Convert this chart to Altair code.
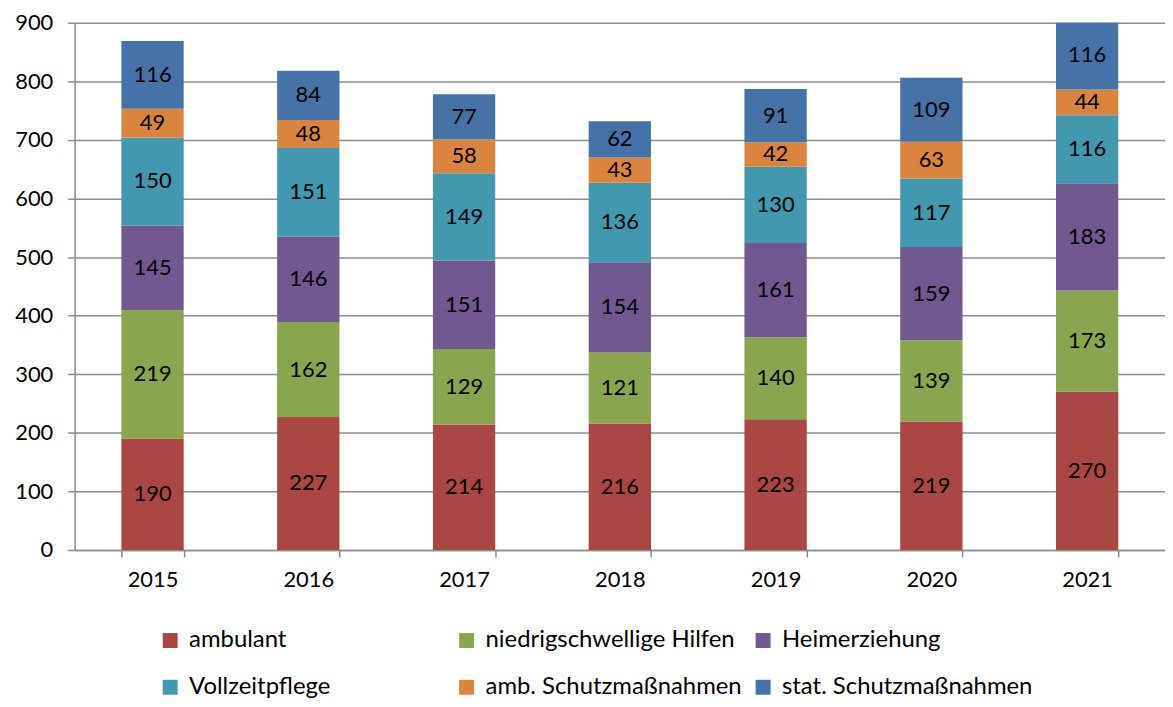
import altair as alt
import pandas as pd

years = ["2015", "2016", "2017", "2018", "2019", "2020", "2021"]
categories = ["ambulant", "niedrigschwellige Hilfen", "Heimerziehung",
              "Vollzeitpflege", "amb. Schutzmaßnahmen", "stat. Schutzmaßnahmen"]
colors = ["#AA4643", "#89A54E", "#71588F", "#4198AF", "#DB843D", "#4572A7"]

ambulant = [190, 227, 214, 216, 223, 219, 270]
niedrig = [219, 162, 129, 121, 140, 139, 173]
heim = [145, 146, 151, 154, 161, 159, 183]
vollzeit = [150, 151, 149, 136, 130, 117, 116]
amb_schutz = [49, 48, 58, 43, 42, 63, 44]
stat_schutz = [116, 84, 77, 62, 91, 109, 116]

series = [ambulant, niedrig, heim, vollzeit, amb_schutz, stat_schutz]
rows = []
for ci, (cat, vals) in enumerate(zip(categories, series)):
    for y, v in zip(years, vals):
        rows.append({"Jahr": y, "Kategorie": cat, "Wert": v, "ord": ci})
df = pd.DataFrame(rows)

FONT = "Lato"
GRID = "#8c8c8c"

base = alt.Chart(df).transform_stack(
    stack="Wert", groupby=["Jahr"], as_=["y0", "y1"],
    sort=[alt.SortField("ord", order="ascending")]
).transform_calculate(mid="(datum.y0 + datum.y1) / 2")

xenc = alt.X("Jahr:N", title=None,
             scale=alt.Scale(paddingInner=0.6, paddingOuter=0.3),
             axis=alt.Axis(labelAngle=0, labelFont=FONT, labelFontSize=22,
                           labelColor="#000", tickBand="extent", tickSize=7,
                           tickColor=GRID, tickWidth=1.5, domainColor=GRID,
                           domainWidth=1.5, labelPadding=13, grid=False))

bars = base.mark_bar(clip=True).encode(
    x=xenc,
    y=alt.Y("y0:Q", title=None,
            scale=alt.Scale(domain=[0, 900], nice=False),
            axis=alt.Axis(values=list(range(0, 901, 100)), labelFont=FONT,
                          labelFontSize=22, labelColor="#000", tickSize=7,
                          tickColor=GRID, tickWidth=1.5, domainColor=GRID,
                          domainWidth=1.5, gridColor=GRID, gridWidth=1.5,
                          labelPadding=15)),
    y2="y1:Q",
    color=alt.Color("Kategorie:N", title=None,
                    scale=alt.Scale(domain=categories, range=colors),
                    legend=alt.Legend(orient="none", legendX=84, legendY=609,
                                      direction="horizontal",
                                      columns=3, gridAlign="all",
                                      columnPadding=9, rowPadding=23,
                                      symbolType="square", symbolSize=225,
                                      symbolStrokeWidth=0, labelFont=FONT,
                                      labelFontSize=24, labelColor="#000",
                                      labelOffset=7, labelLimit=400,
                                      symbolOffset=0)),
)

labels = base.mark_text(font=FONT, fontSize=22, color="#000",
                        baseline="middle").encode(
    x=alt.X("Jahr:N"),
    y=alt.Y("mid:Q"),
    text=alt.Text("Wert:Q"),
)

chart = alt.layer(bars, labels).properties(
    width=1096, height=530,
    autosize=alt.AutoSizeParams(type="none"),
    padding={"left": 67, "top": 13, "right": 0, "bottom": 148},
).configure_view(stroke=None).configure_axis(gridColor=GRID)

chart.save("out.html", embed_options={"renderer": "svg", "actions": False})
